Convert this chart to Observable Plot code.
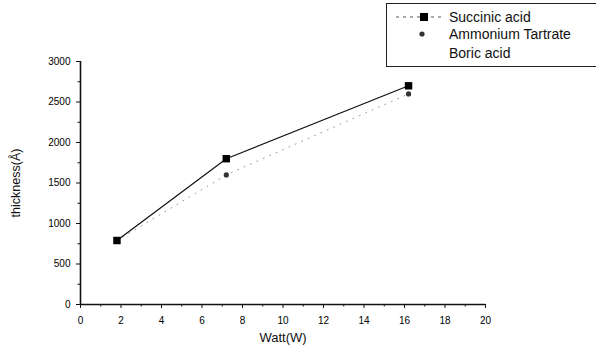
<!DOCTYPE html>
<html>
<head>
<meta charset="utf-8">
<script src="https://cdn.jsdelivr.net/npm/d3@7"></script>
<script src="https://cdn.jsdelivr.net/npm/@observablehq/plot@0.6"></script>
<style>
  html, body { margin: 0; padding: 0; background: #fff; }
  #wrap { position: relative; width: 596px; height: 351px; overflow: hidden; font-family: "Liberation Sans", Arial, sans-serif; }
  #legend { position: absolute; left: 386px; top: 3px; width: 230px; height: 64px; border: 1px solid #222; border-right: none; box-sizing: border-box; }
  #legend svg { position: absolute; left: 0; top: 0; }
</style>
</head>
<body>
<div id="wrap"></div>
<script>
const watt = [1.8, 7.2, 16.2];
const succinic = [790, 1800, 2700];
const ammonium = [790, 1600, 2600];
const seriesNames = ["Succinic acid", "Ammonium Tartrate", "Boric acid"];
const xTicks = [0, 2, 4, 6, 8, 10, 12, 14, 16, 18, 20];
const yTicks = [0, 500, 1000, 1500, 2000, 2500, 3000];

const sData = watt.map((w, i) => ({x: w, y: succinic[i]}));
const aData = watt.map((w, i) => ({x: w, y: ammonium[i]}));
const xMinor = d3.range(1, 20, 2);
const yMinor = d3.range(250, 3000, 500);

const chart = Plot.plot({
  width: 596,
  height: 351,
  marginLeft: 80,
  marginRight: 111,
  marginTop: 61,
  marginBottom: 47,
  style: {fontFamily: "'Liberation Sans', Arial, sans-serif", background: "#fff", color: "#000"},
  x: {domain: [0, 20]},
  y: {domain: [0, 3000]},
  marks: [
    Plot.axisX({ticks: xTicks, tickSize: 4, tickPadding: 8, fontSize: 10, tickFormat: d3.format("d"), label: null, stroke: "#111", fill: "#000"}),
    Plot.axisX({ticks: xMinor, tickSize: 2.5, text: null, label: null, stroke: "#111"}),
    Plot.axisY({ticks: yTicks, tickSize: 4, tickPadding: 6, fontSize: 10, tickFormat: d3.format("d"), label: null, stroke: "#111", fill: "#000"}),
    Plot.axisY({ticks: yMinor, tickSize: 2.5, text: null, label: null, stroke: "#111"}),
    Plot.ruleX([0], {stroke: "#111", strokeWidth: 1.6}),
    Plot.ruleY([0], {stroke: "#111", strokeWidth: 1.6}),
    Plot.text(["Watt(W)"], {frameAnchor: "bottom", dy: 33, lineAnchor: "middle", fontSize: 13, fill: "#111"}),
    Plot.text(["thickness(Å)"], {frameAnchor: "left", dx: -65, rotate: -90, textAnchor: "middle", fontSize: 12.5, fill: "#111"}),
    Plot.line(aData, {x: "x", y: "y", stroke: "#999", strokeWidth: 1, strokeDasharray: "1,6"}),
    Plot.line(sData, {x: "x", y: "y", stroke: "#111", strokeWidth: 1.2}),
    Plot.dot(aData, {x: "x", y: "y", r: 2.6, fill: "#333", stroke: "none", symbol: "circle"}),
    Plot.dot(sData, {x: "x", y: "y", r: 4.2, fill: "#000", stroke: "none", symbol: "square"})
  ]
});
document.getElementById("wrap").appendChild(chart);

// Legend
const legend = document.createElement("div");
legend.id = "legend";
document.getElementById("wrap").appendChild(legend);
const lsvg = d3.select(legend).append("svg").attr("width", 230).attr("height", 64);
const rowsY = [13, 30, 49];
lsvg.append("line").attr("x1", 9).attr("x2", 55).attr("y1", rowsY[0]).attr("y2", rowsY[0])
  .attr("stroke", "#555").attr("stroke-width", 1).attr("stroke-dasharray", "3,4");
lsvg.append("rect").attr("x", 33).attr("y", rowsY[0] - 4).attr("width", 8).attr("height", 8).attr("fill", "#000");
lsvg.append("circle").attr("cx", 35).attr("cy", rowsY[1]).attr("r", 2.6).attr("fill", "#333");
seriesNames.forEach((n, i) => {
  lsvg.append("text").attr("x", 62).attr("y", rowsY[i] + 5)
    .attr("font-size", 14).attr("fill", "#111")
    .attr("font-family", "'Liberation Sans', Arial, sans-serif").text(n);
});
</script>
</body>
</html>
